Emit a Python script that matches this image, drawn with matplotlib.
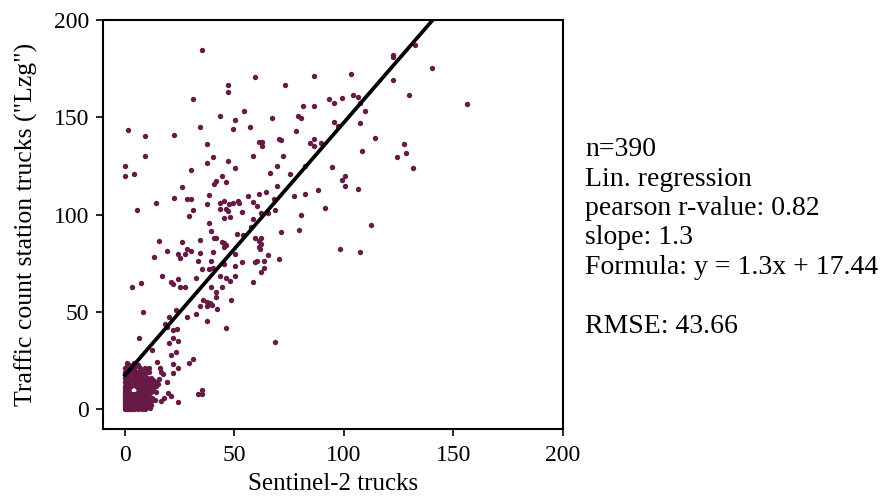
import numpy as np
import matplotlib
matplotlib.use("Agg")
import matplotlib.pyplot as plt

plt.rcParams['font.family'] = ['Liberation Serif', 'DejaVu Serif']

# (Sentinel-2 trucks, traffic count station trucks) - spread part of the cloud
spread_points = [
    (35.3, 184.5), (59.2, 170.6), (47.2, 166.5), (47.2, 163.2), (31.2, 159.3), (54.2, 153.3),
    (43.4, 150.9), (50.2, 148.5), (1.2, 143.7), (34.2, 145.2), (49.2, 144.0), (57.2, 145.1),
    (9.3, 140.6), (22.2, 140.9), (37.3, 136.6), (61.0, 137.5),
    (122.5, 182.3), (122.5, 181.1), (86.3, 171.3), (73.2, 166.8), (103.3, 172.5), (122.5, 169.4),
    (129.8, 161.5), (93.3, 159.3), (95.4, 157.4), (99.2, 160.1), (104.2, 161.5), (106.2, 160.3),
    (107.3, 157.4), (109.4, 153.3), (81.3, 156.0), (86.3, 156.0), (67.3, 149.7), (79.1, 151.0),
    (80.2, 149.7), (95.4, 147.8), (97.1, 145.4), (107.3, 147.3), (78.2, 142.8), (62.6, 137.5),
    (62.6, 135.4), (70.3, 138.7), (71.4, 138.4), (84.5, 136.8), (86.4, 138.7), (86.4, 135.1),
    (89.3, 137.1), (114.3, 139.6), (127.3, 136.5), (108.4, 132.7), (128.3, 131.7),
    (132.4, 187.4), (140.3, 175.2), (156.3, 157.0), (131.4, 124.0),
    (58.3, 130.0), (72.3, 130.3), (124.3, 129.8), (69.4, 125.2), (82.2, 125.2), (94.4, 124.5),
    (66.4, 121.4), (75.2, 121.0), (100.3, 120.0), (99.2, 117.8), (100.3, 114.9), (106.3, 113.2),
    (69.4, 115.0), (88.3, 112.8), (82.3, 110.9), (77.3, 109.4), (64.4, 111.8), (61.3, 110.8),
    (58.3, 106.5), (60.3, 104.7), (68.2, 108.0), (91.5, 103.7), (68.4, 102.4), (65.3, 101.1),
    (62.2, 100.8), (80.2, 100.1), (58.3, 97.7), (79.3, 92.1), (71.2, 91.2), (112.5, 94.7),
    (59.2, 88.0), (62.1, 88.0), (61.2, 86.7), (62.1, 85.2), (61.2, 83.5), (61.6, 82.6),
    (65.4, 79.2), (70.3, 77.2), (63.3, 76.3), (59.2, 75.8), (60.4, 76.1), (63.3, 72.7),
    (62.2, 70.8), (98.2, 82.3), (107.3, 80.9), (58.3, 65.6), (57.4, 93.9),
    (9.3, 130.3), (0.1, 125.2), (0.1, 120.0), (4.2, 121.0), (40.3, 129.6), (37.3, 126.5),
    (47.2, 127.7), (50.2, 124.0), (30.3, 122.9), (44.2, 120.0), (41.4, 117.4), (40.5, 115.7),
    (46.3, 116.8), (26.2, 114.2), (38.4, 110.2), (56.3, 109.7), (14.3, 105.8), (22.2, 108.5),
    (28.2, 108.0), (30.3, 108.2), (37.3, 105.5), (43.4, 105.8), (45.2, 106.8), (47.4, 105.5),
    (49.2, 106.0), (51.5, 106.8), (52.2, 106.0), (43.4, 102.9), (46.1, 102.9), (47.2, 102.0),
    (53.3, 101.5), (31.2, 102.5), (5.3, 102.5), (29.2, 99.4), (45.2, 98.4), (48.1, 98.9),
    (38.4, 95.7), (39.3, 91.6), (51.3, 90.3), (53.7, 89.5), (40.5, 88.0), (41.6, 88.0),
    (15.4, 86.6), (26.2, 85.9), (34.2, 87.1), (44.2, 85.9), (45.2, 85.4), (46.1, 84.5),
    (45.2, 83.3), (28.2, 82.6), (30.3, 81.6), (19.2, 81.3), (24.2, 80.0), (27.3, 80.0),
    (34.2, 80.2), (40.3, 80.6), (50.2, 79.9), (13.2, 78.2), (25.1, 77.5), (33.2, 76.1),
    (39.3, 76.3), (45.2, 74.7), (53.4, 75.6), (35.3, 72.2), (38.4, 72.2), (40.3, 72.5),
    (50.2, 73.7), (17.0, 68.7), (32.3, 67.4), (43.4, 68.6), (46.1, 67.5), (50.2, 68.6),
    (47.9, 66.0), (24.2, 66.9), (21.1, 65.5), (22.1, 64.3), (25.1, 63.1), (27.3, 63.1),
    (7.3, 65.1), (3.2, 62.6), (39.3, 62.6), (44.3, 62.6),
    (41.4, 60.5), (48.3, 56.1), (41.4, 57.6), (35.8, 56.4), (37.3, 55.3), (38.8, 54.5),
    (34.2, 53.0), (37.6, 53.3), (39.9, 53.7), (42.1, 51.6), (37.3, 45.4), (32.3, 49.0),
    (28.2, 47.3), (23.1, 51.2), (8.2, 50.0), (20.1, 47.3), (18.3, 43.7), (19.0, 42.5),
    (22.1, 40.8), (23.6, 41.2), (46.3, 41.8), (6.4, 36.5), (22.1, 36.8), (24.2, 35.1),
    (20.1, 34.0), (12.5, 30.5), (23.3, 29.6), (21.1, 27.9), (31.2, 25.9), (29.2, 23.7),
    (22.1, 23.5), (24.2, 21.4), (14.5, 24.5), (16.0, 21.1), (16.7, 19.0), (17.5, 18.0),
    (22.1, 18.8), (19.0, 13.9), (15.4, 15.4), (33.2, 8.0), (35.3, 9.9), (35.3, 7.7),
    (19.8, 8.2), (21.1, 6.8), (24.2, 3.9), (16.3, 4.4), (17.8, 5.7), (11.4, 0.8),
    (13.7, 4.8), (14.2, 9.1), (12.5, 5.7), (6.8, 1.3), (9.1, 3.1), (68.4, 34.8),
]

# dense cluster near the origin
cluster_points = [
    (1, 24), (2, 23), (3, 22), (4, 24), (5, 22), (6, 23), (7, 21), (1, 22), (2, 21), (0, 21),
    (0, 19), (0, 18), (1, 20), (2, 19), (3, 18), (4, 20), (5, 19), (6, 18), (7, 20), (8, 19),
    (9, 18), (10, 20), (11, 19), (3, 20), (5, 17), (7, 17), (1, 17), (9, 21), (11, 21),
    (0, 16), (0, 14), (0, 12), (1, 15), (1, 13), (2, 16), (2, 14), (3, 15), (3, 12), (4, 16),
    (4, 13), (5, 15), (5, 12), (6, 16), (6, 14), (7, 15), (7, 13), (8, 16), (8, 12), (9, 15),
    (9, 13), (10, 16), (10, 14), (11, 15), (11, 12), (12, 14), (13, 15), (13, 13), (14, 14),
    (12, 16), (15, 13), (14, 12), (2, 12), (6, 12),
    (0, 11), (0, 9), (1, 10), (1, 8), (2, 11), (2, 9), (6, 11), (6, 9), (7, 10), (7, 8),
    (8, 11), (8, 9), (9, 10), (9, 8), (10, 11), (10, 9), (11, 10), (12, 9), (13, 11), (12, 11),
    (11, 8), (3, 8), (5, 8),
    (0, 7), (0, 6), (0, 5), (0, 4), (0, 3), (0, 2), (0, 1), (0, 0), (1, 7), (1, 5), (1, 3),
    (1, 1), (1, 0), (2, 6), (2, 4), (2, 2), (2, 0), (3, 7), (3, 5), (3, 3), (3, 1), (3, 0),
    (4, 6), (4, 4), (4, 2), (4, 0), (5, 7), (5, 5), (5, 3), (5, 1), (6, 6), (6, 4), (6, 2),
    (6, 0), (7, 7), (7, 5), (7, 3), (7, 1), (8, 6), (8, 4), (8, 2), (8, 0), (9, 7), (9, 5),
    (9, 2), (10, 6), (10, 4), (10, 1), (11, 5), (11, 3), (12, 4), (12, 2), (10, 3), (9, 0),
    (2, 8), (4, 8), (1, 6), (2, 1), (5, 2), (3, 4), (0, 8),
    (0, 10), (1, 12), (4, 18), (8, 14), (6, 22),
]

n_label = 390
r_value = 0.82
slope = 1.3
intercept = 17.44
rmse = 43.66

x_ticks = [0, 50, 100, 150, 200]
y_ticks = [0, 50, 100, 150, 200]

pts = np.array(spread_points + cluster_points, dtype=float)
sentinel2 = pts[:, 0]
station = pts[:, 1]

fig = plt.figure(figsize=(8.84, 5.0), dpi=100)
ax = fig.add_axes([103 / 884, 1 - 428.7 / 500, 460 / 884, 408.5 / 500])

ax.scatter(sentinel2, station, s=15, color='#661a45', linewidths=0, zorder=2)

xl = np.linspace(sentinel2.min(), sentinel2.max(), 100)
ax.plot(xl, slope * xl + intercept, color='black', lw=2.7, zorder=3)

ax.set_xlim(-10, 200)
ax.set_ylim(-10, 200)
ax.set_xticks(x_ticks)
ax.set_yticks(y_ticks)
ax.tick_params(labelsize=17, length=5, width=1.2)
ax.tick_params(axis='x', pad=7)
ax.tick_params(axis='y', pad=5)
for sp in ax.spines.values():
    sp.set_linewidth(1.5)

ax.set_xlabel('Sentinel-2 trucks', fontsize=18, labelpad=5)
ax.set_ylabel('Traffic count station trucks ("Lzg")', fontsize=18.5, labelpad=11)

txt = (f"n={n_label}\nLin. regression\npearson r-value: {r_value}\nslope: {slope}\n"
       f"Formula: y = {slope}x + {intercept}\n\nRMSE: {rmse}")
fig.text(585 / 884, 1 - 238 / 500, txt, fontsize=20, va='center', ha='left', linespacing=1.23)

fig.savefig('out.png', dpi=100)
